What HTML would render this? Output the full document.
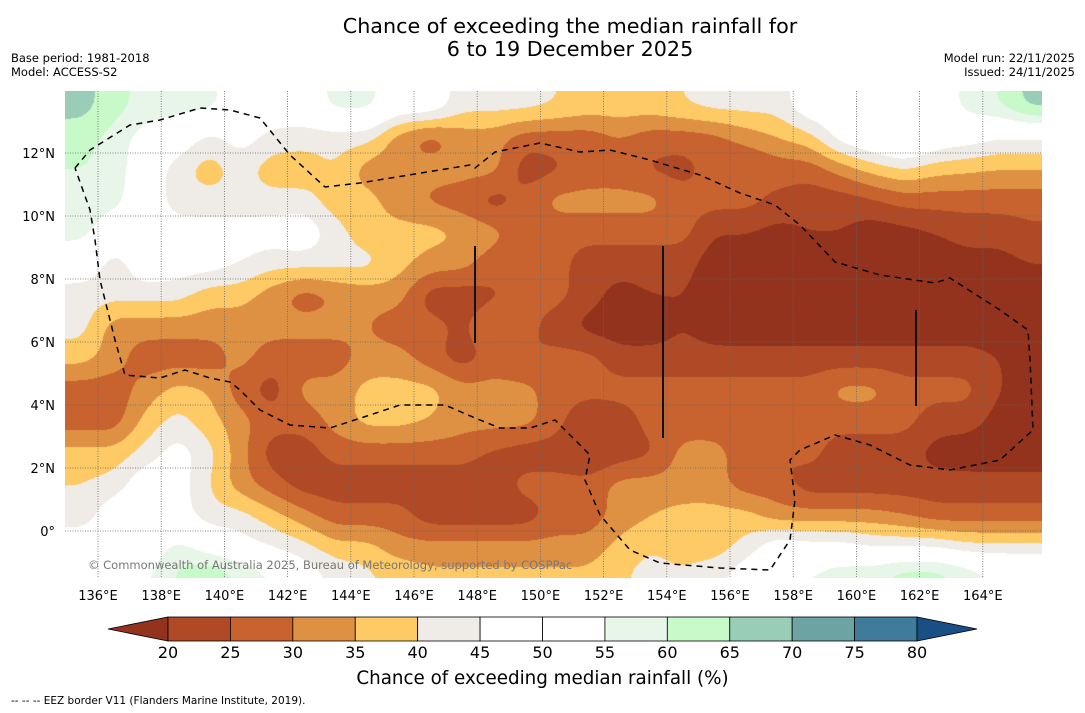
<!DOCTYPE html>
<html><head><meta charset="utf-8"><style>
body{margin:0;background:#fff;width:1085px;height:713px;overflow:hidden;font-family:"DejaVu Sans","Liberation Sans",sans-serif;}
#wrap{position:relative;width:1085px;height:713px;}
.t{position:absolute;white-space:nowrap;color:#000;}
</style></head><body>
<div id="wrap">
<div class="t" style="left:0;width:1140px;text-align:center;top:15px;font-size:20.7px;line-height:23px;">Chance of exceeding the median rainfall for<br>6 to 19 December 2025</div>
<div class="t" style="left:11px;top:51px;font-size:11.5px;line-height:14px;">Base period: 1981-2018<br>Model: ACCESS-S2</div>
<div class="t" style="right:10px;top:51px;font-size:11.5px;line-height:14px;text-align:right;">Model run: 22/11/2025<br>Issued: 24/11/2025</div>
<canvas id="map" width="977" height="487" style="position:absolute;left:65px;top:91px;"></canvas>
<svg id="ov" width="1085" height="713" style="position:absolute;left:0;top:0;"></svg>
<div class="t" style="left:88px;top:558px;font-size:11.5px;color:#777;">© Commonwealth of Australia 2025, Bureau of Meteorology, supported by COSPPac</div>
<div class="t" style="left:0;width:1085px;text-align:center;top:668px;font-size:18.3px;">Chance of exceeding median rainfall (%)</div>
<div class="t" style="left:11px;top:695px;font-size:10.5px;">--  --  -- EEZ border V11 (Flanders Marine Institute, 2019).</div>
</div>
<script>
const lons=[135.5,136.5,137.5,138.5,139.5,140.5,141.5,142.5,143.5,144.5,145.5,146.5,147.5,148.5,149.5,150.5,151.5,152.5,153.5,154.5,155.5,156.5,157.5,158.5,159.5,160.5,161.5,162.5,163.5,164.5,165.5];
const lats=[13.5,12.5,11.5,10.5,9.5,8.5,7.5,6.5,5.5,4.5,3.5,2.5,1.5,0.5,-0.5,-1.5];
const r13=[67,62,58,57,57,50,50,50,57,57,50,50,42,42,42,40,38,38,38,40,42,42,42,50,50,50,50,50,57,60,67];
const r12=[62,58,52,50,43,48,43,42,42,42,32,27,32,32,27,27,27,30,27,27,28,32,35,38,48,52,57,50,48,45,45];
const r11=[60,58,50,42,37,42,37,37,40,32,32,32,32,32,22,24,27,27,24,23,27,24,27,27,32,37,40,37,36,35,35];
const r10=[58,57,50,42,42,42,42,42,37,37,32,29,27,22,27,32,32,32,32,27,27,27,24,22,22,24,27,27,27,27,27];
const r9=[57,50,50,48,48,48,48,50,42,37,37,37,35,32,27,27,27,27,27,27,20,20,18,20,20,17,18,20,22,22,24];
const r8=[50,42,50,48,48,45,42,42,42,42,37,33,32,27,27,27,22,22,22,22,17,17,17,17,17,17,17,17,18,18,20];
const r7=[42,42,42,42,37,37,32,27,30,32,32,22,22,24,27,27,22,18,20,20,17,17,17,17,17,17,17,17,17,17,17];
const r6=[42,32,32,32,32,32,32,32,32,30,27,27,24,30,27,22,18,17,17,20,17,17,17,17,17,17,17,17,17,17,17];
const r5=[37,32,27,27,27,32,27,27,27,32,32,27,22,27,24,27,27,22,22,22,22,22,22,22,22,22,22,22,22,20,18];
const r4=[27,27,32,37,35,27,22,32,32,37,37,37,32,32,32,27,27,27,27,27,27,27,27,27,32,32,27,27,27,20,18];
const r3=[27,27,37,42,37,32,27,27,32,37,37,35,32,32,32,27,20,22,27,27,27,27,32,27,27,27,27,22,22,18,17];
const r2=[37,37,42,48,42,32,22,22,27,27,27,27,27,24,22,22,19,22,24,32,32,27,24,27,22,22,22,18,17,17,17];
const r1=[40,42,50,48,40,32,27,22,22,22,22,22,22,22,27,27,27,32,32,32,32,27,27,22,22,22,22,22,22,22,22];
const r0=[42,50,50,48,42,42,37,32,27,27,27,22,22,22,22,27,27,32,35,37,37,37,32,32,32,32,30,27,27,27,27];
const rm1=[50,48,50,57,52,48,45,42,37,37,32,32,32,32,32,32,32,37,40,37,37,42,50,48,48,45,45,45,42,42,42];
const rm2=[48,50,55,62,67,62,57,50,45,42,40,37,37,37,37,37,37,40,42,42,45,50,55,57,60,62,67,67,62,57,57];
const grid=[r13,r12,r11,r10,r9,r8,r7,r6,r5,r4,r3,r2,r1,r0,rm1,rm2];
const binEdges=[20,25,30,35,40,45,50,55,60,65,70,75,80];
const binColors=['#93331e','#b04a26','#c8622f','#de9142','#fdca65','#efebe6','#ffffff','#ffffff','#e8f5e9','#c8f9c8','#99cdb7','#6ca4a3','#3f7b9a','#1a4f85'];
const lonTicks=[136,138,140,142,144,146,148,150,152,154,156,158,160,162,164];
const latTicks=[12,10,8,6,4,2,0];
const lbTicks=[20,25,30,35,40,45,50,55,60,65,70,75,80];

const xOf=lon=>98+(lon-136)*31.6;
const yOf=lat=>531-lat*31.5;
function colorOf(v){let i=0;while(i<binEdges.length&&v>=binEdges[i])i++;return binColors[i];}
function hex(c){return [parseInt(c.slice(1,3),16),parseInt(c.slice(3,5),16),parseInt(c.slice(5,7),16)];}
const rgb=binColors.map(hex);
function sample(lon,lat){
  let fc=(lon-lons[0]),fr=(lats[0]-lat);
  fc=Math.max(0,Math.min(lons.length-1,fc));fr=Math.max(0,Math.min(lats.length-1,fr));
  const c0=Math.min(lons.length-2,Math.floor(fc)),r0i=Math.min(lats.length-2,Math.floor(fr));
  const tx=fc-c0,ty=fr-r0i;
  const a=grid[r0i][c0],b=grid[r0i][c0+1],c=grid[r0i+1][c0],d=grid[r0i+1][c0+1];
  return (a*(1-tx)+b*tx)*(1-ty)+(c*(1-tx)+d*tx)*ty;
}
const cv=document.getElementById('map'),ctx=cv.getContext('2d');
const W=cv.width,H=cv.height;
let F=new Float32Array(W*H);
for(let py=0;py<H;py++){const lat=(531-(py+91))/31.5;
  for(let px=0;px<W;px++){const lon=136+((px+65)-98)/31.6;F[py*W+px]=sample(lon,lat);}}
function blurH(src,r){const out=new Float32Array(W*H);for(let y=0;y<H;y++){let s=0,n=0;const row=y*W;
  for(let x=-r;x<W;x++){const a=x+r;if(a<W){s+=src[row+a];n++;}const b=x-r-1;if(b>=0){s-=src[row+b];n--;}if(x>=0)out[row+x]=s/n;}}return out;}
function blurV(src,r){const out=new Float32Array(W*H);for(let x=0;x<W;x++){let s=0,n=0;
  for(let y=-r;y<H;y++){const a=y+r;if(a<H){s+=src[a*W+x];n++;}const b=y-r-1;if(b>=0){s-=src[b*W+x];n--;}if(y>=0)out[y*W+x]=s/n;}}return out;}
for(let k=0;k<2;k++){F=blurV(blurH(F,9),9);}
const img=ctx.createImageData(W,H);
for(let i=0;i<W*H;i++){const v=F[i];let j=0;while(j<binEdges.length&&v>=binEdges[j])j++;const c=rgb[j];
  img.data[i*4]=c[0];img.data[i*4+1]=c[1];img.data[i*4+2]=c[2];img.data[i*4+3]=255;}
ctx.putImageData(img,0,0);

const NS='http://www.w3.org/2000/svg';
const ov=document.getElementById('ov');
const FF='DejaVu Sans, Liberation Sans, sans-serif';
function mk(tag,attrs){const e=document.createElementNS(NS,tag);for(const k in attrs)e.setAttribute(k,attrs[k]);ov.appendChild(e);return e;}
lonTicks.forEach(l=>{
  const g=mk('line',{x1:xOf(l),x2:xOf(l),y1:91,y2:578,stroke:'#666','stroke-width':0.8,'stroke-dasharray':'1,1.5'});
  
  
  const t=mk('text',{x:xOf(l),y:600,'text-anchor':'middle','font-size':13,'font-family':FF});
  t.textContent=l+'°E';
  
  
});
latTicks.forEach(l=>{
  const g=mk('line',{x1:65,x2:1042,y1:yOf(l),y2:yOf(l),stroke:'#666','stroke-width':0.8,'stroke-dasharray':'1,1.5'});
  
  
  const t=mk('text',{x:55,y:yOf(l)+5,'text-anchor':'end','font-size':13,'font-family':FF});
  t.textContent=l===0?'0°':l+'°N';
  
  
});
const eez=[[75,168],[90,150],[130,125],[160,120],[200,108],[230,110],[260,118],[290,155],[325,187],[360,183],[470,165],[475,168],[495,152],[540,143],[580,152],[610,150],[650,160],[700,175],[740,193],[775,205],[800,225],[835,262],[880,275],[935,283],[950,278],[1000,310],[1028,330],[1030,360],[1033,430],[1000,460],[950,470],[910,465],[870,445],[835,435],[800,450],[790,460],[795,500],[790,540],[770,570],[720,568],[660,563],[630,550],[600,515],[585,480],[590,455],[570,435],[555,420],[530,428],[500,428],[475,418],[445,405],[400,405],[370,415],[330,428],[290,425],[260,410],[240,390],[230,382],[210,378],[185,370],[160,378],[125,375],[115,340],[100,280],[95,240],[90,210],[75,168]];
const pl=mk('polyline',{points:eez.map(p=>p.join(',')).join(' '),fill:'none',stroke:'#000','stroke-width':1.5,'stroke-dasharray':'6,5'});


[[475,246,343],[663,246,438],[916,310,406]].forEach(s=>{
  const l=mk('line',{x1:s[0],x2:s[0],y1:s[1],y2:s[2],stroke:'#111','stroke-width':2});
  
  
});
const cbX=v=>168+(v-20)*(917-168)/60;
const lt=mk('polygon',{points:'108,629 168,617 168,641',fill:binColors[0],stroke:'#000','stroke-width':0.8});


for(let i=0;i<lbTicks.length-1;i++){
  const r=mk('rect',{x:cbX(lbTicks[i]),y:617,width:cbX(lbTicks[i+1])-cbX(lbTicks[i]),height:24,fill:colorOf((lbTicks[i]+lbTicks[i+1])/2),stroke:'#000','stroke-width':0.8});
  
  
}
const rt=mk('polygon',{points:'977,629 917,617 917,641',fill:binColors[13],stroke:'#000','stroke-width':0.8});


lbTicks.forEach(v=>{
  const t=mk('text',{x:cbX(v),y:658,'text-anchor':'middle','font-size':16,'font-family':FF});
  t.textContent=v;
  
  
});
</script>
</body></html>
